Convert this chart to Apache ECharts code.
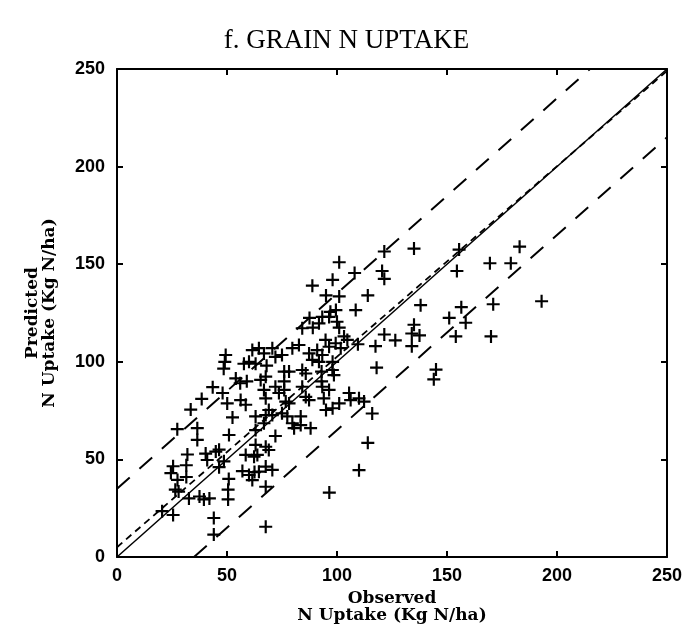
<!DOCTYPE html>
<html>
<head>
<meta charset="utf-8">
<script src="https://cdn.jsdelivr.net/npm/echarts@6/dist/echarts.min.js"></script>
<style>html,body{margin:0;padding:0;background:#fff}#c{width:693px;height:630px}</style>
</head>
<body>
<div id="c"></div>
<script>
// Observed / predicted grain N uptake (Kg N/ha)
const observed = [
 20.5,25.5,26.5,28,27.5,24.5,25.5,31.5,31.5,32.7,37.5,39.5,42,44,44,50.5,50.5,50.8,46.4,48.6,
 40.3,41,44.9,46.4,32,57,60,62.5,61.5,64.5,67.6,67.6,67.6,58.5,62.3,63.8,63,67.6,69,70.6,
 36.5,36.5,27.4,33.5,38.5,43.5,48,48.5,49.4,49,50.9,52.5,50.1,56.2,58.5,63,67.6,63,66.8,54,
 56,59,65.3,67.6,66.8,67.6,57.7,60,63,61.5,64.5,66.8,
 70.6,75,72,82.7,79.7,78.2,84.2,85.8,87.3,88.8,91,91.8,93.3,94.8,96.4,97.9,98.6,99.4,101.7,104.7,
 84.2,91.8,93.3,96.4,97,100,103.2,72,73.6,76.7,78.2,75,77.4,79.7,80.5,69,70.6,76,84.2,85.8,
 87.3,88,83.5,83.5,93.3,94,95,96.4,98,101,105.5,106.2,110,112.3,93,93,98,76,76,68,72,
 88.8,98,101,108,121.5,120.5,121.5,114,95,101,108.5,99.5,87.5,101,89,121.5,126.5,117.5,109.5,118,
 116,114,110,96.5,
 135,155.5,183,169.5,179,154.5,138,156.5,171,193,151,158.5,135,137.5,134,134,154,170,145,144
];
const predicted = [
 23.5,21.5,34.5,33.5,39.5,43,46.5,47,41,30,31,29.5,30,20,11.5,29.5,34.5,40,46,49,
 53,49.7,54,55,52.5,44,42,43.5,39.4,43.7,46.3,36,15.5,52.3,51.4,52.3,57.4,56.5,54.8,44.6,
 60,66,65.5,75.5,81,87,84,96.5,103.5,100,62.5,71.5,78.7,80.4,78,72,72.7,65,68.5,91.5,
 89,90,90.7,92.4,85.6,81.3,99,100,99,106,107,104.3,
 107,103.5,102.5,108.6,107,95,95.8,94,104.3,101,106,100,103.5,111.2,107.7,95.8,93.2,109.5,107,111.2,
 117.2,119.7,123,123,125.6,120.5,113,87.2,84,79.6,78.7,73.6,72,68.5,66,75.3,72.7,85.6,87.2,82,
 80.4,66,72,67.6,87.2,81.3,75.3,85.6,76.2,78.7,84,80.4,81.3,79.6,90,95,100,90,95,98,62,
 139,142,151,145.5,156.5,146.5,142.5,134,134,133.5,126.5,126.5,122.5,117.5,117.5,114,111,108,109,97,
 73.5,58.5,44.5,33,
 158,157.5,159,150.5,150.5,146.5,129,128,129.5,131,122.5,120,119,113.5,114.5,108,113,113,96,91
];
// Reference lines (endpoints in data units)
const oneToOne   = [[0, 0], [250, 250]];
const regression = [[0, 5], [250, 249]];
const upperBand  = [[0, 35], [215, 250]];
const lowerBand  = [[35, 0], [250, 215]];
const ticks = [0, 50, 100, 150, 200, 250];

const points = observed.map((x, i) => [x, predicted[i]]);
const chart = echarts.init(document.getElementById('c'), null, {renderer: 'canvas'});
const labelFont = {color: '#000', fontFamily: 'Liberation Sans, Arial, sans-serif', fontWeight: 'bold', fontSize: 18};
const nameFont = {color: '#000', fontFamily: 'DejaVu Serif, serif', fontWeight: 'bold', fontSize: 17, lineHeight: 17};
function axisBase(extra) {
  return Object.assign({
    type: 'value', min: ticks[0], max: ticks[ticks.length - 1], interval: 50,
    axisLine: {show: true, onZero: false, lineStyle: {color: '#000', width: 2}},
    axisTick: {show: true, inside: true, length: 6, lineStyle: {color: '#000', width: 2}},
    splitLine: {show: false}
  }, extra);
}
chart.setOption({
  animation: false,
  backgroundColor: '#fff',
  title: {text: 'f. GRAIN N UPTAKE', left: 'center', top: 22,
    textStyle: {color: '#000', fontFamily: 'Liberation Serif, serif', fontWeight: 'normal', fontSize: 27}},
  grid: {left: 117, right: 26, top: 69, bottom: 73},
  xAxis: [
    axisBase({position: 'bottom', axisLabel: Object.assign({margin: 10}, labelFont),
      name: 'Observed\nN Uptake (Kg N/ha)', nameLocation: 'middle', nameGap: 23, nameTextStyle: nameFont}),
    axisBase({position: 'top', axisLabel: {show: false}})
  ],
  yAxis: [
    axisBase({position: 'left', axisLabel: Object.assign({margin: 12}, labelFont),
      name: 'Predicted\nN Uptake (Kg N/ha)', nameLocation: 'middle', nameGap: 59, nameRotate: 90, nameTextStyle: nameFont}),
    axisBase({position: 'right', axisLabel: {show: false}})
  ],
  series: [
    {type: 'line', data: oneToOne, showSymbol: false, silent: true,
      lineStyle: {color: '#000', width: 1.5, type: 'solid'}},
    {type: 'line', data: regression, showSymbol: false, silent: true,
      lineStyle: {color: '#000', width: 1.8, type: [7, 5]}},
    {type: 'line', data: upperBand, showSymbol: false, silent: true,
      lineStyle: {color: '#000', width: 2, type: [17, 13]}},
    {type: 'line', data: lowerBand, showSymbol: false, silent: true,
      lineStyle: {color: '#000', width: 2, type: [17, 13]}},
    {type: 'scatter', data: points, silent: true,
      symbol: 'path://M5,0H7V5H12V7H7V12H5V7H0V5H5Z', symbolSize: 13,
      itemStyle: {color: '#000', opacity: 1}}
  ]
});
</script>
</body>
</html>
